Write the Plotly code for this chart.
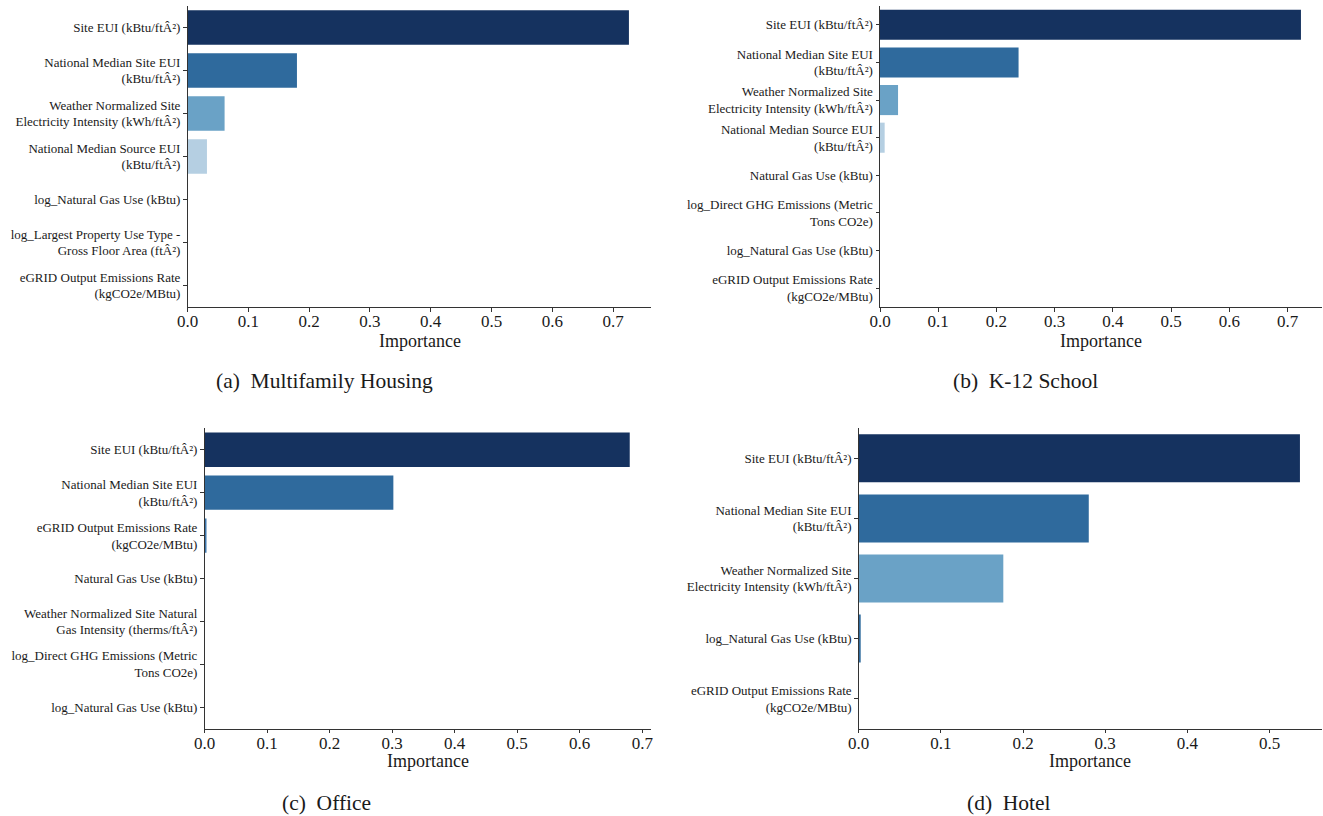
import plotly.graph_objects as go

# ---------------- data ----------------
feat_a = ["Site EUI (kBtu/ftÂ²)",
          "National Median Site EUI<br>(kBtu/ftÂ²)",
          "Weather Normalized Site<br>Electricity Intensity (kWh/ftÂ²)",
          "National Median Source EUI<br>(kBtu/ftÂ²)",
          "log_Natural Gas Use (kBtu)",
          "log_Largest Property Use Type -<br>Gross Floor Area (ftÂ²)",
          "eGRID Output Emissions Rate<br>(kgCO2e/MBtu)"]
imp_a = [0.726, 0.180, 0.061, 0.032, 0.0, 0.0, 0.0]

feat_b = ["Site EUI (kBtu/ftÂ²)",
          "National Median Site EUI<br>(kBtu/ftÂ²)",
          "Weather Normalized Site<br>Electricity Intensity (kWh/ftÂ²)",
          "National Median Source EUI<br>(kBtu/ftÂ²)",
          "Natural Gas Use (kBtu)",
          "log_Direct GHG Emissions (Metric<br>Tons CO2e)",
          "log_Natural Gas Use (kBtu)",
          "eGRID Output Emissions Rate<br>(kgCO2e/MBtu)"]
imp_b = [0.723, 0.238, 0.031, 0.008, 0.0, 0.0, 0.0, 0.0]

feat_c = ["Site EUI (kBtu/ftÂ²)",
          "National Median Site EUI<br>(kBtu/ftÂ²)",
          "eGRID Output Emissions Rate<br>(kgCO2e/MBtu)",
          "Natural Gas Use (kBtu)",
          "Weather Normalized Site Natural<br>Gas Intensity (therms/ftÂ²)",
          "log_Direct GHG Emissions (Metric<br>Tons CO2e)",
          "log_Natural Gas Use (kBtu)"]
imp_c = [0.680, 0.302, 0.002, 0.0, 0.0, 0.0, 0.0]

feat_d = ["Site EUI (kBtu/ftÂ²)",
          "National Median Site EUI<br>(kBtu/ftÂ²)",
          "Weather Normalized Site<br>Electricity Intensity (kWh/ftÂ²)",
          "log_Natural Gas Use (kBtu)",
          "eGRID Output Emissions Rate<br>(kgCO2e/MBtu)"]
imp_d = [0.537, 0.280, 0.176, 0.002, 0.0]

captions = ["(a)  Multifamily Housing", "(b)  K-12 School", "(c)  Office", "(d)  Hotel"]
x_title = "Importance"

# ---------------- styling ----------------
W, H = 1323, 816
FONT = "Liberation Serif, Times New Roman, serif"
TXT = "#1a1a1a"
col_a = ["#15325f", "#2f6a9d", "#6aa2c6", "#b5cfe2", "#d3e2ef", "#e3edf6", "#eef4fa"]
col_b = ["#15325f", "#2f6a9d", "#6aa2c6", "#b5cfe2", "#d3e2ef", "#e3edf6", "#eef4fa", "#f3f7fb"]
col_c = ["#15325f", "#2f6a9d", "#3f78ad", "#6aa2c6", "#b5cfe2", "#d3e2ef", "#e3edf6"]
col_d = ["#15325f", "#2f6a9d", "#6aa2c6", "#2f6a9d", "#b5cfe2"]

# panel boxes in pixels: (left, right, top, bottom)
boxes = [(187.5, 651, 6, 307), (880, 1322, 6, 307),
         (204.5, 651, 428.3, 728.7), (858.7, 1322, 428.3, 728.7)]
title_pos = [(419.5, 341), (1101, 341), (428, 761), (1090, 761)]
cap_pos = [(324, 381), (1025, 381), (326, 803), (1009, 803)]
xticks = [[0, 0.1, 0.2, 0.3, 0.4, 0.5, 0.6, 0.7]] * 3 + [[0, 0.1, 0.2, 0.3, 0.4, 0.5]]

panels = [(feat_a, imp_a, col_a), (feat_b, imp_b, col_b),
          (feat_c, imp_c, col_c), (feat_d, imp_d, col_d)]

fig = go.Figure()
layout = dict(template="none", width=W, height=H, margin=dict(l=0, r=0, t=0, b=0, pad=0),
              paper_bgcolor="white", plot_bgcolor="white", showlegend=False,
              font=dict(family=FONT, color=TXT), annotations=[])

for i, (feats, imps, cols) in enumerate(panels):
    n = i + 1
    xa = "x" if n == 1 else f"x{n}"
    ya = "y" if n == 1 else f"y{n}"
    fig.add_trace(go.Bar(x=imps, y=feats, orientation="h", width=0.8,
                         marker=dict(color=cols[:len(feats)], line=dict(width=0)),
                         xaxis=xa, yaxis=ya, hoverinfo="x+y"))
    l, r, t, b = boxes[i]
    xkey = "xaxis" if n == 1 else f"xaxis{n}"
    ykey = "yaxis" if n == 1 else f"yaxis{n}"
    layout[xkey] = dict(domain=[l / W, r / W], anchor=ya, range=[0, max(imps) * 1.05],
                        automargin=False,
                        tickvals=xticks[i], ticktext=[f"{v:.1f}" for v in xticks[i]],
                        showline=True, linecolor="#333333", linewidth=1,
                        ticks="outside", ticklen=3.5, tickwidth=0.8, tickcolor="#333333",
                        ticklabelstandoff=-5,
                        showgrid=False, zeroline=False,
                        tickfont=dict(family=FONT, size=17, color=TXT))
    layout[ykey] = dict(domain=[1 - b / H, 1 - t / H], anchor=xa, type="category",
                        automargin=False,
                        categoryorder="array", categoryarray=feats,
                        range=[len(feats) - 0.5, -0.5],
                        showline=True, linecolor="#333333", linewidth=1,
                        ticks="outside", ticklen=3.5, tickwidth=0.8, tickcolor="#333333",
                        showgrid=False, zeroline=False,
                        tickfont=dict(family=FONT, size=13, color=TXT))
    tx, ty = title_pos[i]
    layout["annotations"].append(dict(text=x_title, x=tx / W, y=1 - ty / H, xref="paper", yref="paper",
                                      showarrow=False, xanchor="center", yanchor="middle",
                                      font=dict(family=FONT, size=18, color=TXT)))
    cx, cy = cap_pos[i]
    layout["annotations"].append(dict(text=captions[i], x=cx / W, y=1 - cy / H, xref="paper", yref="paper",
                                      showarrow=False, xanchor="center", yanchor="middle",
                                      font=dict(family=FONT, size=21.5, color=TXT)))

fig.update_layout(**layout)
fig.write_html("out.html")
